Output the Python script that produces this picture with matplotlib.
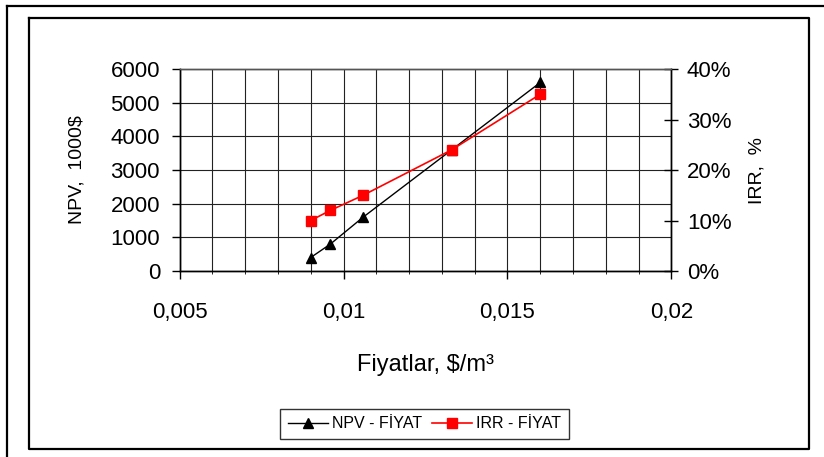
import matplotlib
matplotlib.use("Agg")
import matplotlib.pyplot as plt
from matplotlib.lines import Line2D
from matplotlib.ticker import MultipleLocator, FuncFormatter

plt.rcParams["font.family"] = ["Liberation Sans", "DejaVu Sans"]

# data
prices = [0.009, 0.0096, 0.0106, 0.0133, 0.016]
npv = [400, 800, 1600, 3600, 5600]
irr = [0.10, 0.12, 0.15, 0.24, 0.35]

x_ticks = [0.005, 0.01, 0.015, 0.02]
npv_ticks = [0, 1000, 2000, 3000, 4000, 5000, 6000]
irr_ticks = [0.0, 0.1, 0.2, 0.3, 0.4]

W, H = 824, 457
fig = plt.figure(figsize=(W / 100, H / 100), dpi=100)

# frames around the chart
def fline(xs, ys):
    fig.add_artist(Line2D([x / W for x in xs], [1 - y / H for y in ys],
                          color="black", lw=1.6, transform=fig.transFigure))

fline([7, 7], [6, 470])
fline([7, 840], [6, 6])
fline([29, 809, 809, 29, 29], [18, 18, 449, 449, 18])

ax = fig.add_axes([179.5 / W, 1 - 271 / H, 492 / W, 202 / H])
ax2 = ax.twinx()

ax.set_xlim(0.005, 0.02)
ax.set_ylim(0, 6000)
ax2.set_ylim(0, 0.4)

ax.set_xticks(x_ticks)
ax.xaxis.set_minor_locator(MultipleLocator(0.001))
ax.xaxis.set_major_formatter(FuncFormatter(lambda v, p: ("%g" % v).replace(".", ",")))
ax.set_yticks(npv_ticks)
ax2.set_yticks(irr_ticks)
ax2.yaxis.set_major_formatter(FuncFormatter(lambda v, p: "%d%%" % round(v * 100)))

ax.grid(True, which="both", color="#222222", lw=0.8)
ax.set_axisbelow(True)

for a in (ax, ax2):
    for s in a.spines.values():
        s.set_color("black")
        s.set_linewidth(1.0)
ax.spines["top"].set_color("#555555")
ax2.spines["top"].set_color("#555555")

ax.tick_params(axis="x", which="major", direction="out", length=6, width=1, labelsize=16, pad=16)
ax.tick_params(axis="x", which="minor", direction="out", length=2.5, width=0.6)
ax.tick_params(axis="y", direction="out", length=6, width=1, labelsize=16, pad=8)
ax2.tick_params(axis="y", direction="inout", length=10, width=1, labelsize=16, pad=6)

l1, = ax.plot(prices, npv, color="black", lw=1.0, marker="^", markersize=7.5,
              label="NPV - FİYAT")
l2, = ax2.plot(prices, irr, color="red", lw=1.2, marker="s", markersize=6.5,
               label="IRR - FİYAT")

ax.set_xlabel("Fiyatlar, $/m³", fontsize=17)
ax.xaxis.set_label_coords(0.5, (271 - 365) / 202)
ax.xaxis.label.set_va("center")

ax.set_ylabel("NPV,  1000$", fontsize=14)
ax.yaxis.set_label_coords((77 - 179.5) / 492, 0.5)
ax.yaxis.label.set_va("center")
ax2.set_ylabel("IRR,  %", fontsize=14)
ax2.yaxis.set_label_coords((757 - 179.5) / 492, 0.5)
ax2.yaxis.label.set_va("center")

leg = fig.legend(handles=[l1, l2], loc="center", bbox_to_anchor=(424.5 / W, 1 - 424 / H),
                 ncol=2, fontsize=11.5, frameon=True, fancybox=False, edgecolor="black",
                 handlelength=2.5, handletextpad=0.25, columnspacing=0.6, borderpad=0.5)
leg.get_frame().set_linewidth(1.0)

fig.savefig("out.png", dpi=100)
